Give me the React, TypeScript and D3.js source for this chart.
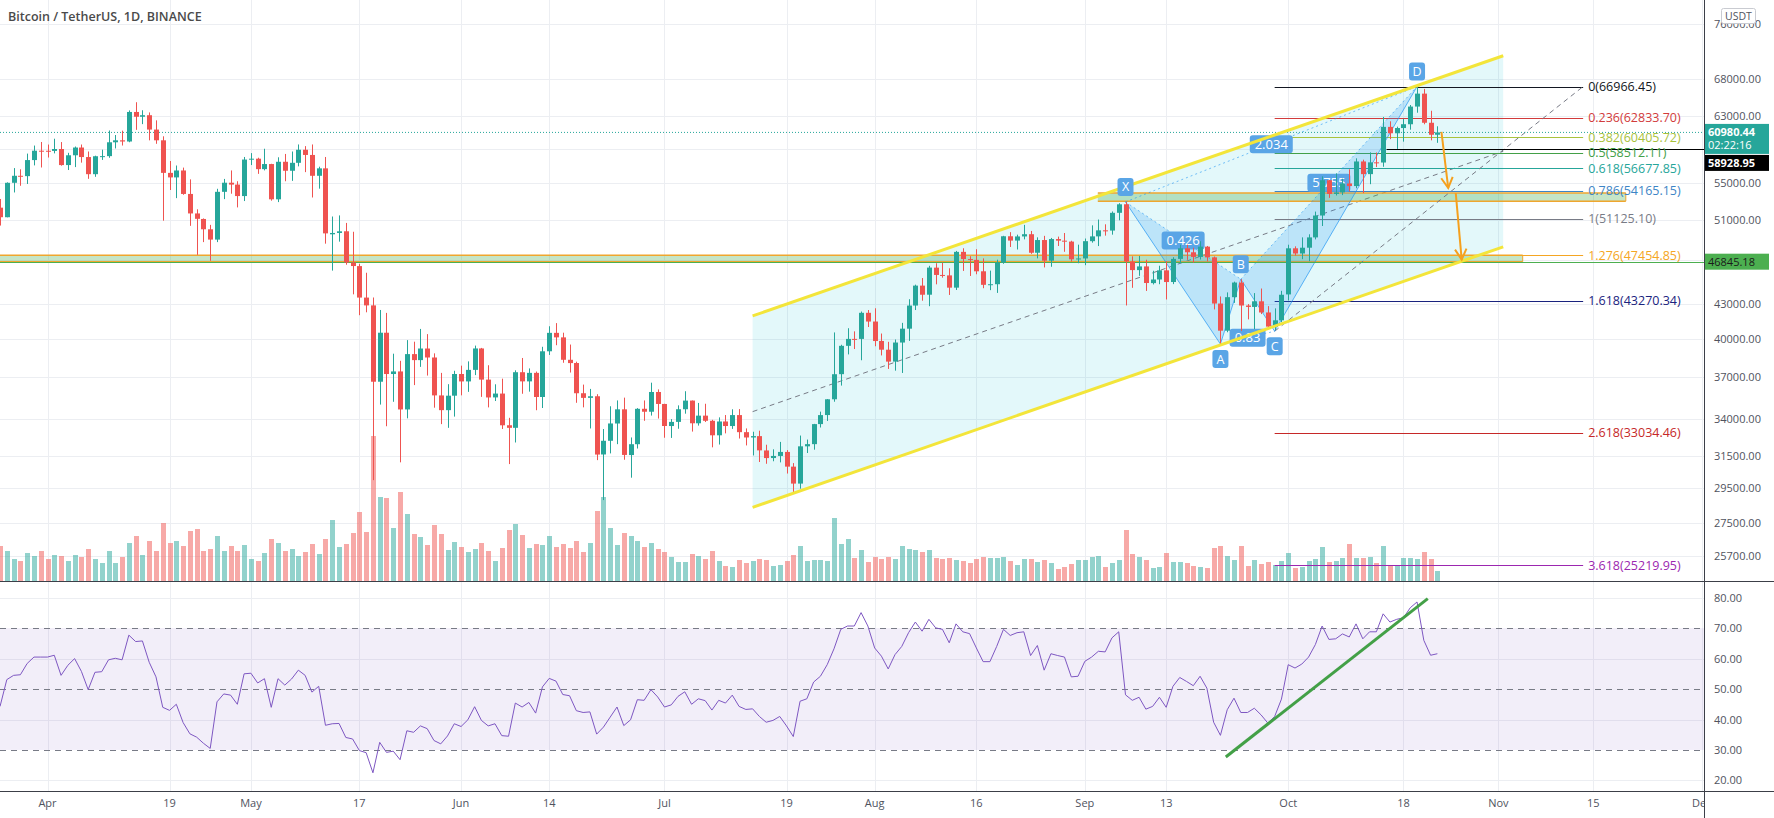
import * as d3 from "d3";

const FONT = "'Open Sans', 'Noto Sans', sans-serif";
const UP = "#26a69a";
const DOWN = "#ef5350";

const TITLE = "Bitcoin / TetherUS, 1D, BINANCE";
const FIRST_DAY = "2021-03-25";

// daily candles, open / high / low / close (USDT), 25 Mar – 23 Oct 2021
const OHLC: [number, number, number, number][] = [
  // Mar 25-31
  [52303, 53236, 50427, 51293], [51293, 55073, 51282, 55025], [55025, 56700, 53950, 55817], [55817, 56559, 54691, 55777],
  [55777, 58400, 54890, 57635], [57635, 59368, 57012, 58746], [58746, 59800, 56769, 58740],
  // Apr
  [58740, 59490, 57935, 58720], [58720, 60200, 58428, 58950], [58950, 59791, 56979, 57051], [57051, 58493, 56477, 58202],
  [58202, 59251, 56817, 59129], [59129, 59495, 57333, 57991], [57991, 58650, 55473, 56000], [56000, 58153, 55700, 58088],
  [58088, 58869, 57654, 58100], [58100, 61220, 57903, 59765], [59765, 60659, 59017, 60006], [60006, 61200, 59369, 59860],
  [59860, 63777, 59770, 63578], [63578, 64854, 61301, 62959], [62959, 63800, 62020, 63159], [63159, 63520, 60000, 61334],
  [61334, 62500, 59580, 60006], [60006, 60499, 50931, 56150], [56150, 57526, 54221, 55633], [55633, 57000, 53329, 56425],
  [56425, 56757, 53696, 53787], [53787, 55410, 50400, 51690], [51690, 52130, 47500, 51125], [51110, 51166, 48753, 50047],
  [50047, 50500, 46930, 49004], [49004, 54356, 48753, 54021], [54021, 55460, 53222, 55033], [55033, 56428, 53813, 54824],
  [54824, 55200, 52330, 53555], [53555, 58000, 53013, 57697],
  // May
  [57697, 58458, 57052, 57797], [57797, 57911, 56035, 56578], [56578, 58981, 56435, 57169], [57169, 57200, 53057, 53200],
  [53200, 57963, 52900, 57436], [57436, 58360, 55200, 56393], [56393, 58650, 55241, 57314], [57314, 59500, 56900, 58862],
  [58862, 59300, 56235, 58240], [58240, 59500, 53400, 55816], [55816, 56862, 54370, 56670], [56670, 58000, 48600, 49631],
  [49537, 51367, 46000, 49671], [49671, 51483, 48800, 49840], [49844, 50700, 46555, 46763], [46762, 49795, 43825, 46431],
  [46426, 46643, 42001, 43538], [43538, 45800, 42250, 42850], [42850, 43546, 30000, 36671], [36671, 42451, 35000, 40526],
  [40526, 42200, 33488, 37252], [37252, 38829, 35200, 37449], [37449, 38270, 31111, 34655], [34655, 39920, 34031, 38796],
  [38796, 39791, 36419, 38324], [38324, 40841, 37800, 39241], [39241, 40411, 37134, 38529], [38529, 38856, 34779, 35663],
  [35661, 37338, 33632, 34605], [34605, 36488, 33379, 35641], [35641, 37499, 34153, 37253],
  // Jun
  [37254, 37894, 35666, 36693], [36694, 38225, 35920, 37568], [37568, 39476, 37170, 39246], [39246, 39289, 35555, 36829],
  [36829, 37925, 34800, 35513], [35516, 36480, 35255, 35796], [35796, 36900, 33300, 33552], [33556, 34068, 31000, 33380],
  [33380, 37534, 32396, 37389], [37389, 38491, 35782, 36697], [36697, 37680, 35936, 37340], [37340, 37440, 34600, 35546],
  [35546, 39380, 34757, 39020], [39021, 41064, 38730, 40516], [40516, 41330, 39506, 40144], [40143, 40527, 38116, 38349],
  [38349, 39560, 37365, 38092], [38098, 38200, 35129, 35820], [35820, 36457, 34803, 35483], [35483, 36137, 33336, 35600],
  [35600, 35750, 31251, 31608], [31614, 33298, 28805, 32509], [32509, 34881, 31683, 33678], [33675, 35298, 32286, 34663],
  [34663, 35500, 31275, 31584], [31577, 32730, 30151, 32283], [32283, 34749, 32000, 34700], [34702, 35297, 33862, 34494],
  [34494, 36600, 34225, 35911], [35911, 36100, 34017, 35045],
  // Jul
  [35045, 35057, 32711, 33504], [33502, 33977, 32699, 33786], [33786, 34945, 33316, 34669], [34669, 35967, 34357, 35286],
  [35288, 35293, 33125, 33690], [33690, 35118, 33532, 34220], [34220, 35059, 33777, 33862], [33863, 33929, 32077, 32875],
  [32875, 34100, 32261, 33815], [33815, 34262, 33004, 33502], [33502, 34666, 33307, 34259], [34259, 34679, 32658, 33086],
  [33086, 33340, 32202, 32729], [32729, 33114, 31550, 32820], [32820, 33185, 31133, 31880], [31874, 32249, 31020, 31383],
  [31384, 31948, 31179, 31520], [31520, 32435, 31108, 31778], [31778, 31899, 30408, 30839], [30839, 31063, 29278, 29790],
  [29790, 32858, 29482, 32144], [32144, 32591, 31708, 32287], [32287, 33650, 31925, 33634], [33635, 34500, 33401, 34258],
  [34261, 35398, 33851, 35381], [35381, 40550, 35205, 37237], [37241, 39542, 36383, 39457], [39456, 40900, 38772, 40019],
  [40019, 40640, 39200, 40016], [40018, 42316, 38313, 42206], [42207, 42448, 41000, 41461],
  // Aug
  [41462, 42599, 39422, 39845], [39850, 40459, 38691, 39147], [39146, 39780, 37642, 38207], [38207, 39969, 37508, 39723],
  [39723, 41350, 37332, 40862], [40862, 43392, 39853, 42836], [42836, 44700, 42446, 44614], [44614, 45310, 43261, 43792],
  [43794, 46454, 42779, 46285], [46280, 46700, 44730, 45595], [45596, 46743, 45341, 45553], [45554, 46218, 43771, 44428],
  [44429, 47886, 44217, 47793], [47793, 48144, 45971, 47097], [47097, 47372, 45500, 47019], [47019, 48053, 45660, 45936],
  [45937, 47160, 44376, 44686], [44686, 46000, 44203, 44741], [44741, 47033, 43955, 46763], [46763, 49382, 46644, 49339],
  [49340, 49757, 48273, 48905], [48905, 49500, 48025, 49321], [49321, 50500, 49028, 49546], [49546, 49875, 47600, 47706],
  [47707, 49230, 47163, 48960], [48960, 49380, 46300, 46942], [46942, 49170, 46363, 49058], [49058, 49303, 48370, 48897],
  [48897, 49667, 47800, 48806], [48806, 48888, 46854, 47074], [47074, 48500, 46700, 47155],
  // Sep
  [47156, 49111, 46513, 48847], [48847, 50450, 48700, 49327], [49327, 51051, 48361, 49938], [49939, 50558, 49400, 49916],
  [49916, 51900, 49500, 51756], [51756, 52780, 50969, 52663], [52667, 52920, 42843, 46863], [46863, 47359, 44413, 46049],
  [46048, 47399, 45514, 46395], [46396, 47031, 44132, 44851], [44843, 45987, 44722, 45174], [45174, 46460, 44742, 46026],
  [46026, 46876, 43370, 44941], [44942, 47275, 44750, 47112], [47113, 48488, 46698, 48144], [48143, 48500, 47020, 47753],
  [47753, 48200, 46750, 47303], [47302, 48843, 47051, 48307], [48306, 48373, 46876, 47261], [47261, 47349, 42500, 43012],
  [43012, 43639, 39600, 40694], [40694, 44000, 40565, 43574], [43574, 44978, 43069, 44895], [44895, 45200, 40675, 42839],
  [42839, 42966, 41646, 42717], [42716, 43939, 40829, 43208], [43208, 44350, 42098, 42235], [42236, 42787, 40888, 41034],
  [41034, 42590, 40753, 41564], [41564, 44141, 41410, 43790],
  // Oct 1-23
  [43820, 48495, 43283, 48141], [48142, 48336, 47430, 47634], [47634, 49228, 47088, 48200], [48200, 49536, 46891, 49225],
  [49224, 51886, 49022, 51471], [51471, 55750, 50382, 55315], [55316, 55338, 53357, 53785], [53786, 56100, 53617, 53951],
  [53955, 55489, 53661, 54949], [54949, 56561, 54080, 54659], [54660, 57840, 54415, 57471], [57471, 57680, 53879, 56005],
  [56006, 58550, 54870, 57367], [57370, 58532, 56818, 57347], [57347, 62933, 56850, 61672], [61672, 62378, 60150, 60875],
  [60876, 61700, 58963, 61528], [61528, 62695, 59844, 62009], [62005, 64486, 61322, 64280], [64281, 66966, 63481, 66001],
  [66002, 66639, 62000, 62193], [62193, 63732, 60000, 60688], [60689, 61747, 59700, 60980],
];

// daily volume, thousand BTC
const VOLUME = [
  35, 30, 22, 20, 28, 25, 30,
  22, 26, 25, 20, 26, 24, 32, 22, 18, 30, 18, 24, 38, 45, 26, 40, 30, 58, 38, 40, 35, 50, 52, 30, 32, 45, 30, 35, 30, 36,
  22, 20, 28, 42, 38, 30, 32, 25, 29, 37, 27, 42, 61, 34, 37, 48, 69, 49, 145, 84, 83, 53, 89, 67, 47, 44, 36, 56, 47, 31, 39,
  34, 29, 32, 38, 30, 20, 33, 51, 57, 46, 33, 37, 36, 45, 34, 37, 33, 40, 29, 38, 70, 84, 53, 36, 48, 45, 40, 34, 38, 32,
  29, 24, 19, 19, 27, 25, 22, 30, 20, 15, 14, 21, 18, 20, 22, 21, 15, 16, 20, 26, 35, 20, 21, 21, 20, 63, 37, 42, 23, 31, 19,
  24, 22, 24, 22, 35, 32, 31, 29, 31, 23, 22, 23, 21, 20, 18, 22, 24, 23, 23, 24, 20, 16, 22, 22, 19, 21, 18, 12, 14, 17, 21,
  21, 24, 25, 14, 18, 21, 51, 27, 24, 21, 13, 14, 28, 19, 19, 18, 15, 14, 13, 33, 35, 25, 21, 35, 15, 21, 17, 19, 16, 20,
  28, 13, 14, 20, 22, 34, 19, 20, 23, 37, 23, 23, 24, 18, 35, 15, 16, 23, 23, 22, 29, 22, 10,
];

// RSI(14)
const RSI = [
  44.3, 53.1, 54.5, 54.7, 58.4, 60.5, 60.5,
  60.5, 61.1, 54.5, 57.8, 60, 55.8, 49.8, 55.5, 55.7, 59.6, 60.1, 59.6, 67.7, 65.6, 65.8, 58.8, 54, 44, 43, 45, 39, 35.3, 34.2, 32.2, 30.5, 45.8, 48.4, 48, 45, 55,
  55.2, 52, 53.4, 44, 53.4, 51.3, 53.3, 56.2, 54.5, 49, 50.9, 38.1, 38.6, 38.7, 34.1, 33.6, 29.8, 29.1, 22.5, 32.5, 29.2, 29.6, 26.8, 36.3, 35.8, 37.9, 37, 33.1, 32, 34.6, 38.6,
  37.7, 39.9, 44.2, 39.7, 37.9, 38.6, 34.7, 34.5, 45.4, 44.1, 45.6, 42.1, 50.7, 53.5, 52.6, 48.2, 47.8, 42.9, 42.3, 42.5, 35.2, 37.5, 40.8, 44.1, 38, 39.9, 46.5, 46.3, 49.8, 47.4,
  44.1, 44.8, 47.6, 49.1, 45, 46.8, 46.2, 43.1, 46.3, 45.4, 48, 44.3, 43.3, 43.5, 41, 39.1, 39.7, 41, 37.9, 34.4, 46, 46.8, 52.3, 54.2, 58, 63.2, 69.6, 70.7, 70.7, 75.1, 70.7,
  63.5, 60.8, 56.6, 61.3, 64, 68.5, 72, 69, 72.9, 70.1, 69.6, 65.2, 71.4, 68.8, 68.2, 63.5, 59, 59, 64, 69.6, 67.6, 68.5, 68.8, 61, 64.3, 56.2, 61.6, 61, 60.5, 54, 54.2,
  59.1, 60.5, 62.4, 62.2, 66.8, 68.8, 48.1, 46.3, 47.3, 43.4, 44.3, 47.3, 44, 50.9, 53.8, 52.5, 51.1, 54.2, 50.3, 39.1, 34.8, 43.2, 47, 42.3, 42.3, 43.7, 41.5, 38.8, 41, 46.7,
  58, 56.9, 58.2, 60.5, 64.6, 70.7, 66.3, 66.5, 68.1, 67.1, 71.4, 66.5, 68.8, 68.8, 74.7, 72, 72.9, 73.4, 76.7, 78.6, 66, 61.1, 61.6,
];

const PRICE_TICKS = [76000, 68000, 63000, 59000, 55000, 51000, 47000, 43000, 40000, 37000, 34000, 31500, 29500, 27500, 25700];
const HIDDEN_PRICE_LABELS = [59000, 47000];
const RSI_TICKS = [80, 70, 60, 50, 40, 30, 20];
const RSI_BANDS = [70, 50, 30];
const TIME_TICKS: [string, string][] = [
  ["2021-04-01", "Apr"], ["2021-04-19", "19"], ["2021-05-01", "May"], ["2021-05-17", "17"], ["2021-06-01", "Jun"],
  ["2021-06-14", "14"], ["2021-07-01", "Jul"], ["2021-07-19", "19"], ["2021-08-01", "Aug"], ["2021-08-16", "16"],
  ["2021-09-01", "Sep"], ["2021-09-13", "13"], ["2021-10-01", "Oct"], ["2021-10-18", "18"], ["2021-11-01", "Nov"],
  ["2021-11-15", "15"], ["2021-12-01", "Dec"],
];

const FIB_LEVELS: [string, number, string][] = [
  ["0", 66966.45, "#131722"], ["0.236", 62833.7, "#d23b3b"], ["0.382", 60405.72, "#a9c23c"], ["0.5", 58512.11, "#43a047"],
  ["0.618", 56677.85, "#26a69a"], ["0.786", 54165.15, "#3d85c6"], ["1", 51125.1, "#787b86"], ["1.276", 47454.85, "#f5a623"],
  ["1.618", 43270.34, "#1a237e"], ["2.618", 33034.46, "#c62828"], ["3.618", 25219.95, "#9c27b0"],
];
const FIB_SPAN = ["2021-09-29T00:00:00Z", "2021-11-13T12:00:00Z"];

const PATTERN: [string, string, number, number][] = [
  // label, date, price, label side (-1 above, 1 below)
  ["X", "2021-09-07", 52920, -1],
  ["A", "2021-09-21", 39600, 1],
  ["B", "2021-09-24", 45200, -1],
  ["C", "2021-09-29", 40650, 1],
  ["D", "2021-10-20", 66966.45, -1],
];
const PATTERN_RATIOS: [number, number, string][] = [[0, 2, "0.426"], [1, 3, "0.83"], [2, 4, "5.755"], [0, 4, "2.034"]];

const CHANNEL_DATES = ["2021-07-14", "2021-11-01T17:00:00Z"];
const CHANNEL_UPPER = [41940, 71300];
const CHANNEL_LOWER = [28380, 48290];

const ZONES: [string, string, number, number][] = [
  ["2021-03-01", "2021-11-04T14:00:00Z", 47454.85, 46845.18],
  ["2021-09-02T22:00:00Z", "2021-11-19T19:00:00Z", 53880, 53000],
];

const ARROWS: [string, number, string, number][] = [
  ["2021-10-23T14:24:00Z", 61050, "2021-10-24T14:24:00Z", 54440],
  ["2021-10-25T17:00:00Z", 53890, "2021-10-26T14:00:00Z", 47050],
];

const RSI_TREND: [string, number][] = [["2021-09-21T19:00:00Z", 27.7], ["2021-10-21T14:00:00Z", 79.7]];

const LAST_PRICE = 60980.44;
const COUNTDOWN = "02:22:16";
const RAY_PRICE = 58928.95;
const RAY_FROM = "2021-10-15T12:00:00Z";
const HLINE_PRICE = 46845.18;

const W = 1774, H = 818;
const PR = 1704;          // right edge of plot
const MAIN_B = 581;       // bottom of price pane
const RSI_B = 791;        // bottom of rsi pane

export default function App() {
  const day0 = Date.parse(FIRST_DAY + "T00:00:00Z");
  const dates = OHLC.map((_, i) => new Date(day0 + i * 864e5));
  const x = d3.scaleUtc().domain([new Date("2021-04-01T00:00:00Z"), new Date("2021-12-01T00:00:00Z")]).range([47.5, 1701.8]);
  const y = d3.scaleLog().domain([25700, 68000]).range([556, 79]);
  const yR = d3.scaleLinear().domain([20, 80]).range([780.4, 597.7]);
  const yV = d3.scaleLinear().domain([0, d3.max(VOLUME)!]).range([MAIN_B, 436]);
  const X = (s: string) => x(new Date(s));

  const grid = "#eceef2";
  const axisCol = "#50535e";

  const chX = CHANNEL_DATES.map(X);
  const up0 = y(CHANNEL_UPPER[0]), up1 = y(CHANNEL_UPPER[1]);
  const lo0 = y(CHANNEL_LOWER[0]), lo1 = y(CHANNEL_LOWER[1]);

  const pts = PATTERN.map(([l, d, p, side]) => ({ l, x: X(d), y: y(p), side }));
  const fx0 = X(FIB_SPAN[0]), fx1 = X(FIB_SPAN[1]);

  const rsiLine = d3.line<number>().x((_, i) => x(dates[i])).y(v => yR(v));

  const arrowHead = (x1: number, y1: number, x2: number, y2: number) => {
    const a = Math.atan2(y2 - y1, x2 - x1), L = 12, s = 0.5;
    return `M${x2 - L * Math.cos(a - s)},${y2 - L * Math.sin(a - s)}L${x2},${y2}L${x2 - L * Math.cos(a + s)},${y2 - L * Math.sin(a + s)}`;
  };

  return (
    <svg width={W} height={H} style={{ position: "fixed", left: 0, top: 0, background: "#fff" }} fontFamily={FONT}>
      <defs>
        <clipPath id="main"><rect x={0} y={0} width={PR} height={MAIN_B} /></clipPath>
        <clipPath id="rsi"><rect x={0} y={MAIN_B} width={PR} height={RSI_B - MAIN_B} /></clipPath>
        <clipPath id="time"><rect x={0} y={RSI_B} width={PR} height={H - RSI_B} /></clipPath>
      </defs>

      {/* grid */}
      {TIME_TICKS.map(([d]) => (
        <line key={d} x1={Math.round(X(d)) + 0.5} x2={Math.round(X(d)) + 0.5} y1={0} y2={RSI_B} stroke={grid} />
      ))}
      {PRICE_TICKS.map(p => (
        <line key={p} x1={0} x2={PR} y1={Math.round(y(p)) + 0.5} y2={Math.round(y(p)) + 0.5} stroke={grid} />
      ))}
      {[80, 60, 40, 20].map(v => (
        <line key={v} x1={0} x2={PR} y1={Math.round(yR(v)) + 0.5} y2={Math.round(yR(v)) + 0.5} stroke={grid} />
      ))}

      <g clipPath="url(#main)">
        {/* volume */}
        {VOLUME.map((v, i) => {
          const [o, , , c] = OHLC[i];
          return <rect key={i} x={Math.round(x(dates[i])) - 2} y={yV(v)} width={5} height={MAIN_B - yV(v)}
            fill={c >= o ? UP : DOWN} opacity={0.5} />;
        })}

        {/* channel fill + pattern */}
        <path d={`M${chX[0]},${up0}L${chX[1]},${up1}L${chX[1]},${lo1}L${chX[0]},${lo0}Z`} fill="rgba(0,188,212,0.11)" />
        <line x1={chX[0]} y1={(up0 + lo0) / 2} x2={chX[1]} y2={(up1 + lo1) / 2} stroke="#787b86" strokeDasharray="5,4" />

        {ZONES.map(([a, b, top, bot], i) => (
          <g key={i}>
            <rect x={X(a)} y={y(top)} width={X(b) - X(a)} height={y(bot) - y(top)} fill="rgba(76,175,80,0.32)" />
            <line x1={X(a)} x2={X(b)} y1={y(top)} y2={y(top)} stroke="#efa62e" strokeWidth={1.5} />
            <line x1={X(a)} x2={X(b)} y1={y(bot)} y2={y(bot)} stroke="#efa62e" strokeWidth={1.5} />
            <line x1={X(b)} x2={X(b)} y1={y(top)} y2={y(bot)} stroke="#efa62e" strokeWidth={1} />
          </g>
        ))}

        {FIB_LEVELS.map(([k, p, col]) => (
          <line key={k} x1={fx0} x2={fx1} y1={Math.round(y(p)) + 0.5} y2={Math.round(y(p)) + 0.5} stroke={col} />
        ))}
        <line x1={pts[3].x} y1={pts[3].y} x2={fx1} y2={y(FIB_LEVELS[0][1])} stroke="#787b86" strokeDasharray="5,4" />

        <path d={`M${pts[0].x},${pts[0].y}L${pts[1].x},${pts[1].y}L${pts[2].x},${pts[2].y}Z`} fill="rgba(33,150,243,0.2)" />
        <path d={`M${pts[2].x},${pts[2].y}L${pts[3].x},${pts[3].y}L${pts[4].x},${pts[4].y}Z`} fill="rgba(33,150,243,0.2)" />
        <path d={d3.line()(pts.map(p => [p.x, p.y] as [number, number]))!} fill="none" stroke="#2196f3" strokeOpacity={0.7} />
        {PATTERN_RATIOS.map(([a, b]) => (
          <line key={`${a}${b}`} x1={pts[a].x} y1={pts[a].y} x2={pts[b].x} y2={pts[b].y} stroke="#2196f3" strokeOpacity={0.6} strokeDasharray="2,3" />
        ))}
        {PATTERN_RATIOS.map(([a, b, t]) => {
          const mx = (pts[a].x + pts[b].x) / 2, my = (pts[a].y + pts[b].y) / 2, w = t.length * 7 + 8;
          return (
            <g key={t}>
              <rect x={mx - w / 2} y={my - 9} width={w} height={18} rx={3} fill="#5aa5e6" />
              <text x={mx} y={my + 4.5} textAnchor="middle" fontSize={13} fill="#fff">{t}</text>
            </g>
          );
        })}

        {/* horizontal levels */}
        <line x1={0} x2={PR} y1={y(LAST_PRICE)} y2={y(LAST_PRICE)} stroke={UP} strokeDasharray="1,2" />
        <line x1={0} x2={PR} y1={Math.round(y(HLINE_PRICE)) + 0.5} y2={Math.round(y(HLINE_PRICE)) + 0.5} stroke="#4caf50" />
        <line x1={X(RAY_FROM)} x2={PR} y1={Math.round(y(RAY_PRICE)) + 0.5} y2={Math.round(y(RAY_PRICE)) + 0.5} stroke="#000" />

        {/* candles */}
        {OHLC.map(([o, h, l, c], i) => {
          const cx = Math.round(x(dates[i]));
          const col = c >= o ? UP : DOWN;
          const yt = y(Math.max(o, c)), yb = y(Math.min(o, c));
          return (
            <g key={i}>
              <line x1={cx + 0.5} x2={cx + 0.5} y1={y(h)} y2={y(l)} stroke={col} />
              <rect x={cx - 2} y={yt} width={5} height={Math.max(1, yb - yt)} fill={col} />
            </g>
          );
        })}

        {/* channel borders */}
        <line x1={chX[0]} y1={up0} x2={chX[1]} y2={up1} stroke="#f3e53a" strokeWidth={3} />
        <line x1={chX[0]} y1={lo0} x2={chX[1]} y2={lo1} stroke="#f3e53a" strokeWidth={3} />

        {/* arrows */}
        {ARROWS.map(([d1, p1, d2, p2], i) => {
          const x1 = X(d1), y1 = y(p1), x2 = X(d2), y2 = y(p2);
          return (
            <g key={i} stroke="#f5a01e" strokeWidth={2} fill="none">
              <line x1={x1} y1={y1} x2={x2} y2={y2} />
              <path d={arrowHead(x1, y1, x2, y2)} />
            </g>
          );
        })}

        {pts.map(p => {
          const cy = p.y + p.side * 15;
          return (
            <g key={p.l}>
              <rect x={p.x - 8} y={cy - 9} width={16} height={18} rx={3} fill="#5aa5e6" />
              <text x={p.x} y={cy + 4.5} textAnchor="middle" fontSize={12.5} fill="#fff">{p.l}</text>
            </g>
          );
        })}
      </g>

      {/* fib labels */}
      {FIB_LEVELS.map(([k, p, col]) => (
        <text key={k} x={fx1 + 5} y={y(p) + 4.5} fontSize={12.5} fill={col}>{`${k}(${p.toFixed(2)})`}</text>
      ))}

      {/* RSI pane */}
      <g clipPath="url(#rsi)">
        <rect x={0} y={yR(70)} width={PR} height={yR(30) - yR(70)} fill="rgba(126,87,194,0.1)" />
        {RSI_BANDS.map(v => (
          <line key={v} x1={0} x2={PR} y1={Math.round(yR(v)) + 0.5} y2={Math.round(yR(v)) + 0.5} stroke="#787b86" strokeDasharray="6,5" />
        ))}
        <path d={rsiLine(RSI)!} fill="none" stroke="#7e57c2" strokeWidth={1} />
        <line x1={X(RSI_TREND[0][0])} y1={yR(RSI_TREND[0][1])} x2={X(RSI_TREND[1][0])} y2={yR(RSI_TREND[1][1])}
          stroke="#43a047" strokeWidth={3} />
      </g>

      {/* title */}
      <text x={8} y={21} fontSize={12.5} fontWeight={600} fill="#4a4a4a">{TITLE}</text>

      {/* frame */}
      <line x1={0} x2={W} y1={MAIN_B + 0.5} y2={MAIN_B + 0.5} stroke="#3c3f48" />
      <line x1={0} x2={W} y1={RSI_B + 0.5} y2={RSI_B + 0.5} stroke="#3c3f48" />
      <line x1={PR + 0.5} x2={PR + 0.5} y1={0} y2={H} stroke="#3c3f48" />

      {/* price axis */}
      {PRICE_TICKS.filter(p => !HIDDEN_PRICE_LABELS.includes(p)).map(p => (
        <text key={p} x={1714} y={y(p) + 4} fontSize={11} fill={axisCol}>{p.toFixed(2)}</text>
      ))}
      <rect x={1721.5} y={8.5} width={34} height={15} rx={2} fill="#fff" stroke="#c9cbd1" />
      <text x={1738.5} y={20} textAnchor="middle" fontSize={10.5} fill={axisCol}>USDT</text>

      <rect x={PR + 1} y={y(LAST_PRICE) - 8.5} width={64} height={30} fill={UP} />
      <text x={1708} y={y(LAST_PRICE) + 4} fontSize={11} fontWeight={700} fill="#fff">{LAST_PRICE.toFixed(2)}</text>
      <text x={1708} y={y(LAST_PRICE) + 17} fontSize={11} fill="#fff">{COUNTDOWN}</text>
      <rect x={PR + 1} y={y(LAST_PRICE) + 22.5} width={64} height={16} fill="#000" />
      <text x={1708} y={y(LAST_PRICE) + 34.5} fontSize={11} fontWeight={700} fill="#fff">{RAY_PRICE.toFixed(2)}</text>
      <rect x={PR + 1} y={y(HLINE_PRICE) - 8} width={64} height={16} fill="#4caf50" />
      <text x={1708} y={y(HLINE_PRICE) + 4} fontSize={11} fill="#1b1b1b">{HLINE_PRICE.toFixed(2)}</text>

      {/* rsi axis */}
      {RSI_TICKS.map(v => (
        <text key={v} x={1714} y={yR(v) + 4} fontSize={11} fill={axisCol}>{v.toFixed(2)}</text>
      ))}

      {/* time axis */}
      <g clipPath="url(#time)">
        {TIME_TICKS.map(([d, t]) => (
          <text key={d} x={X(d)} y={807} textAnchor="middle" fontSize={11} fill={axisCol}>{t}</text>
        ))}
      </g>
    </svg>
  );
}
